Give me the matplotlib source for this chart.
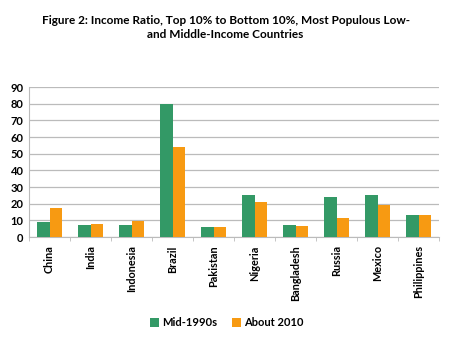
import matplotlib
matplotlib.use("Agg")
import matplotlib.pyplot as plt
import numpy as np

countries = ["China", "India", "Indonesia", "Brazil", "Pakistan", "Nigeria",
             "Bangladesh", "Russia", "Mexico", "Philippines"]
mid1990s = [9, 7, 7, 80, 6, 25, 7.2, 24, 25, 13]
about2010 = [17.5, 7.8, 9.5, 54, 6, 21, 6.8, 11.5, 19, 13]
yticks = [0, 10, 20, 30, 40, 50, 60, 70, 80, 90]

green = "#339966"
orange = "#F79A12"

plt.rcParams['font.family'] = ['Lato', 'DejaVu Sans']
fig = plt.figure(figsize=(4.54, 3.40), dpi=100)
ax = fig.add_axes([29/454, 103/340, 410/454, 150/340])

x = np.arange(len(countries))
w = 0.3
ax.bar(x - w/2, mid1990s, w, color=green, label="Mid-1990s", zorder=3)
ax.bar(x + w/2, about2010, w, color=orange, label="About 2010", zorder=3)

ax.set_xlim(-0.5, len(countries) - 0.5)
ax.set_ylim(0, 90)
ax.set_yticks(yticks)
ax.set_yticklabels([str(t) for t in yticks], fontsize=8, fontweight='bold')
ax.yaxis.grid(True, color="#BBBBBB", linewidth=0.9, zorder=0)
ax.tick_params(axis='y', length=0, pad=4)

ax.set_xticks(x)
ax.set_xticklabels(countries, rotation=90, fontsize=7.8, fontweight='bold')
ax.set_xticks(np.arange(-0.5, len(countries), 1), minor=True)
ax.tick_params(axis='x', which='major', length=0, pad=6)
ax.tick_params(axis='x', which='minor', length=3, color="#BBBBBB")

for s in ['top', 'right']:
    ax.spines[s].set_visible(False)
ax.spines['left'].set_color("#BBBBBB")
ax.spines['bottom'].set_color("#BBBBBB")

fig.text(0.497, 0.955, "Figure 2: Income Ratio, Top 10% to Bottom 10%, Most Populous Low-\nand Middle-Income Countries",
         ha='center', va='top', fontsize=8.5, fontweight='bold', linespacing=1.35)

fig.legend(loc='center', bbox_to_anchor=(0.5, 0.05), ncol=2, frameon=False,
           handlelength=0.8, handleheight=0.8, columnspacing=1.3,
           handletextpad=0.3, prop={'weight': 'bold', 'size': 8})

fig.savefig("out.png", dpi=100)
